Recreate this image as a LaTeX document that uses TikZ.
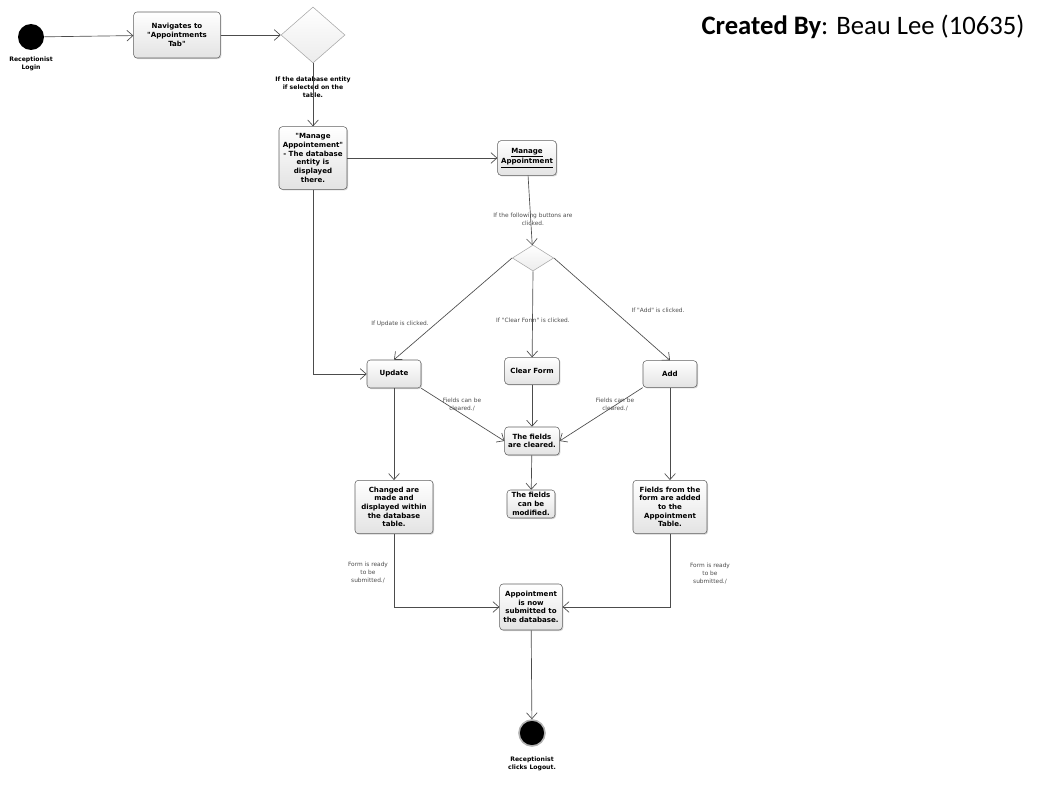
\documentclass[tikz,border=0pt]{standalone}
\usepackage{fontspec}
\newfontfamily\diagramfont{DejaVu Sans}
\newfontfamily\titlefont{Carlito}
\usetikzlibrary{shapes.geometric,arrows.meta,shadows}

\begin{document}
\begin{tikzpicture}[x=0.75pt,y=-0.75pt,
        activity/.style={draw=gray!75!black, rounded corners=2.5pt, top color=white, bottom color=gray!22,
            drop shadow={shadow xshift=0.8pt, shadow yshift=-0.8pt, opacity=0.35},
            align=center, inner sep=1pt, font=\diagramfont\fontsize{5.3}{6.5}\selectfont\bfseries},
        decision/.style={diamond, draw=gray!70, top color=white, bottom color=gray!15, inner sep=0pt},
        flow/.style={draw=black!70, line width=0.5pt, -{Straight Barb[length=4.5pt,width=8pt]}},
        guard/.style={align=center, text=black!70, font=\diagramfont\fontsize{4.4}{6}\selectfont},
        caption/.style={align=center, font=\diagramfont\fontsize{4.6}{6.2}\selectfont\bfseries}]
        \useasboundingbox (0,0) rectangle (1044,788);
        \node [circle, fill=black, minimum size=19.5pt, inner sep=0pt] (login) at (31,37) {};
        \node [caption] (loginlabel) at (31,64) {Receptionist\\Login};
        \node [activity, minimum width=65pt, minimum height=34.5pt] (navigate) at (177,35) {Navigates to\\"Appointments\\Tab"};
        \node [decision, minimum width=48pt, minimum height=42pt] (decide1) at (313,35) {};
        \node [caption] (decide1label) at (313,87) {If the database entity\\if selected on the\\table.};
        \node [activity, minimum width=51pt, minimum height=47pt] (manage1) at (313,158) {"Manage\\Appointement"\\- The database\\entity is\\displayed\\there.};
        \node [activity, minimum width=44pt, minimum height=26pt] (manage2) at (527,158) {\underline{Manage}\\\underline{Appointment}};
        \node [decision, minimum width=31pt, minimum height=19.5pt] (decide2) at (533,258) {};
        \node [activity, minimum width=40.5pt, minimum height=21pt] (update) at (394,374) {Update};
        \node [activity, minimum width=41pt, minimum height=20pt] (clear) at (532,371) {Clear Form};
        \node [activity, minimum width=40.5pt, minimum height=20pt] (add) at (670,374) {Add};
        \node [activity, minimum width=41pt, minimum height=21pt] (cleared) at (532,441) {The fields\\are cleared.};
        \node [activity, minimum width=36pt, minimum height=21pt] (modified) at (531,504) {The fields\\can be\\modified.};
        \node [activity, minimum width=58.5pt, minimum height=40pt] (changed) at (394,507) {Changed are\\made and\\displayed within\\the database\\table.};
        \node [activity, minimum width=55.5pt, minimum height=40pt] (fromform) at (670,507) {Fields from the\\form are added\\to the\\Appointment\\Table.};
        \node [activity, minimum width=47pt, minimum height=34.5pt] (submit) at (531,607) {Appointment\\is now\\submitted to\\the database.};
        \node [circle, draw=gray!60, line width=1.2pt, fill=black, minimum size=19.5pt, inner sep=0pt] (logout) at (532,733) {};
        \node [caption] (logoutlabel) at (532,764) {Receptionist\\clicks Logout.};
        \node (title) at (863,27) {\titlefont\fontsize{20}{24}\selectfont\textbf{Created By}: Beau Lee (10635)};
        \path (533,219) node [guard] (buttonsguard) {If the following buttons are\\clicked.}
              (400,324) node [guard] (updateguard) {If Update is clicked.}
              (533,320) node [guard] (clearguard) {If "Clear Form" is clicked.}
              (658,310) node [guard] (addguard) {If "Add" is clicked.}
              (462,405) node [guard] (leftclearguard) {Fields can be\\cleared./}
              (615,405) node [guard] (rightclearguard) {Fields can be\\cleared./}
              (368,573) node [guard] (leftsubmitguard) {Form is ready\\to be\\submitted./}
              (710,574) node [guard] (rightsubmitguard) {Form is ready\\to be\\submitted./};
        \draw [flow] (login) -- (navigate);
        \draw [flow] (navigate) -- (decide1);
        \draw [flow] (decide1) -- (manage1);
        \draw [flow] (manage1) -- (manage2);
        \draw [flow] (manage2) -- (decide2);
        \draw [flow] (decide2.west) -- (update.north);
        \draw [flow] (decide2.south) -- (clear);
        \draw [flow] (decide2.east) -- (add.north);
        \draw [flow] (manage1.south) |- (update.west);
        \draw [flow] (update.south east) -- (cleared.west);
        \draw [flow] (add.south west) -- (cleared.east);
        \draw [flow] (clear) -- (cleared);
        \draw [flow] (cleared) -- (modified);
        \draw [flow] (update) -- (changed);
        \draw [flow] (add) -- (fromform);
        \draw [flow] (changed.south) |- (submit.west);
        \draw [flow] (fromform.south) |- (submit.east);
        \draw [flow] (submit) -- (logout);
    \end{tikzpicture}
\end{document}
